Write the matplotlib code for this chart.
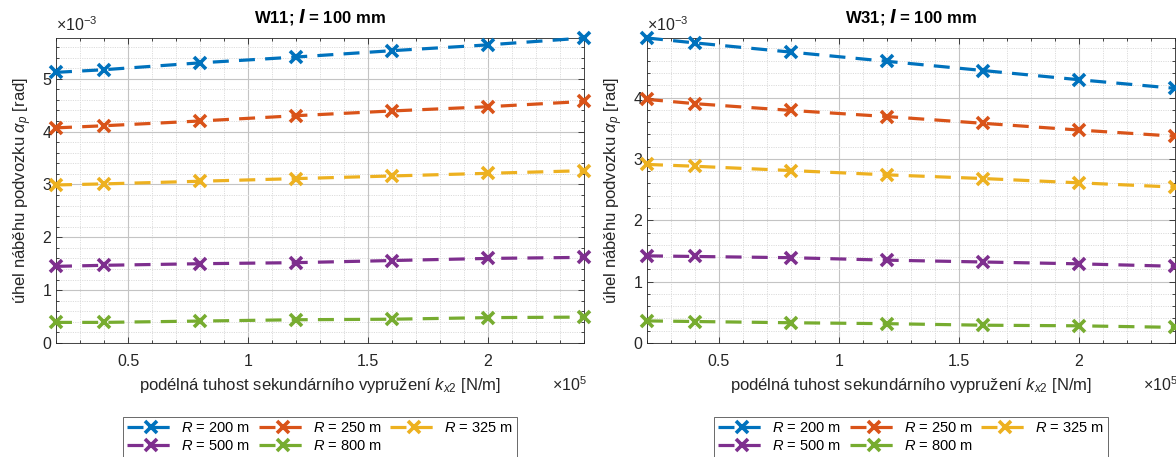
import matplotlib
matplotlib.use("Agg")
import matplotlib.pyplot as plt
from matplotlib.ticker import MultipleLocator, FuncFormatter

plt.rcParams['font.family'] = ['Liberation Sans', 'DejaVu Sans']
plt.rcParams['mathtext.fontset'] = 'custom'
plt.rcParams['mathtext.rm'] = 'Liberation Sans'
plt.rcParams['mathtext.it'] = 'Liberation Sans:italic'
plt.rcParams['mathtext.bf'] = 'Liberation Sans:bold'

# longitudinal stiffness of the secondary suspension [N/m]
k_x2 = [0.2e5, 0.4e5, 0.8e5, 1.2e5, 1.6e5, 2.0e5, 2.4e5]

radii = [200, 250, 325, 500, 800]

# bogie yaw angle [rad], W11 wheel profile
w11_R200 = [5.12e-3, 5.17e-3, 5.30e-3, 5.41e-3, 5.53e-3, 5.64e-3, 5.77e-3]
w11_R250 = [4.07e-3, 4.11e-3, 4.20e-3, 4.30e-3, 4.39e-3, 4.47e-3, 4.57e-3]
w11_R325 = [2.99e-3, 3.01e-3, 3.06e-3, 3.11e-3, 3.16e-3, 3.21e-3, 3.26e-3]
w11_R500 = [1.45e-3, 1.47e-3, 1.50e-3, 1.52e-3, 1.56e-3, 1.60e-3, 1.62e-3]
w11_R800 = [0.39e-3, 0.39e-3, 0.415e-3, 0.44e-3, 0.45e-3, 0.48e-3, 0.49e-3]

# bogie yaw angle [rad], W31 wheel profile
w31_R200 = [4.97e-3, 4.89e-3, 4.74e-3, 4.59e-3, 4.44e-3, 4.29e-3, 4.15e-3]
w31_R250 = [3.97e-3, 3.90e-3, 3.79e-3, 3.69e-3, 3.58e-3, 3.47e-3, 3.37e-3]
w31_R325 = [2.91e-3, 2.88e-3, 2.81e-3, 2.74e-3, 2.68e-3, 2.61e-3, 2.54e-3]
w31_R500 = [1.42e-3, 1.41e-3, 1.39e-3, 1.35e-3, 1.32e-3, 1.29e-3, 1.25e-3]
w31_R800 = [0.36e-3, 0.35e-3, 0.33e-3, 0.315e-3, 0.29e-3, 0.28e-3, 0.255e-3]

colors = ['#0072BD', '#D95319', '#EDB120', '#7E2F8E', '#77AC30']

panels = [
    ("W11", [w11_R200, w11_R250, w11_R325, w11_R500, w11_R800], 5.77e-3),
    ("W31", [w31_R200, w31_R250, w31_R325, w31_R500, w31_R800], 4.97e-3),
]

fig = plt.figure(figsize=(11.76, 4.57), dpi=100)
axes_rects = [
    [56 / 1176, 114 / 457, 528 / 1176, 305 / 457],
    [647 / 1176, 114 / 457, 528 / 1176, 305 / 457],
]

txt_col = '#262626'

for rect, (name, series, ytop) in zip(axes_rects, panels):
    ax = fig.add_axes(rect)
    handles = []
    for vals, col, r in zip(series, colors, radii):
        h, = ax.plot(k_x2, vals, color=col, lw=2.3, dashes=(5, 3.2),
                     marker='x', ms=8, mew=2.6, label=f'$R$ = {r} m',
                     clip_on=False, zorder=3)
        handles.append(h)
    ax.set_xlim(0.2e5, 2.4e5)
    ax.set_ylim(0, ytop)
    ax.xaxis.set_major_locator(MultipleLocator(0.5e5))
    ax.xaxis.set_minor_locator(MultipleLocator(0.1e5))
    ax.yaxis.set_major_locator(MultipleLocator(1e-3))
    ax.yaxis.set_minor_locator(MultipleLocator(0.2e-3))
    ax.xaxis.set_major_formatter(FuncFormatter(lambda v, p: f'{v / 1e5:g}'))
    ax.yaxis.set_major_formatter(FuncFormatter(lambda v, p: f'{v / 1e-3:g}'))
    ax.grid(which='major', color='#c4c4c4', lw=0.8, ls='-')
    ax.grid(which='minor', color='#dcdcdc', lw=0.7, ls=(0, (1.2, 1.2)))
    ax.set_axisbelow(True)
    ax.tick_params(which='both', direction='in', top=True, right=True,
                   colors=txt_col, labelsize=11.5, length=4, width=0.6)
    ax.tick_params(which='minor', length=2)
    ax.tick_params(axis='x', pad=8)
    for s in ax.spines.values():
        s.set_color(txt_col)
        s.set_linewidth(0.6)
    ax.set_title(name + r'; $\mathbfit{l}$ = 100 mm', fontsize=12,
                 fontweight='bold', color='black', pad=11)
    ax.set_xlabel(r'podélná tuhost sekundárního vypružení $k_{x2}$ [N/m]',
                  fontsize=12, color=txt_col, labelpad=5)
    ax.set_ylabel(r'úhel náběhu podvozku $\alpha_p$ [rad]',
                  fontsize=12, color=txt_col, labelpad=6)
    ax.text(0.0, 1.012, r'$\times10^{-3}$', transform=ax.transAxes,
            fontsize=11.5, color=txt_col, ha='left', va='bottom')
    ax.text(0.94, -0.135, r'$\times10^{5}$', transform=ax.transAxes,
            fontsize=11.5, color=txt_col, ha='left', va='center')
    # row-wise legend order: first row 200/250/325, second row 500/800
    order = [0, 3, 1, 4, 2]
    leg = ax.legend([handles[i] for i in order],
                    [handles[i].get_label() for i in order],
                    loc='upper center', bbox_to_anchor=(0.5, -0.243),
                    ncol=3, fontsize=10.5, frameon=True, fancybox=False,
                    edgecolor='#262626', handlelength=3.3, handletextpad=0.4,
                    columnspacing=0.6, borderpad=0.3, labelspacing=0.25,
                    borderaxespad=0)
    leg.get_frame().set_linewidth(0.6)

fig.savefig('out.png', dpi=100)
